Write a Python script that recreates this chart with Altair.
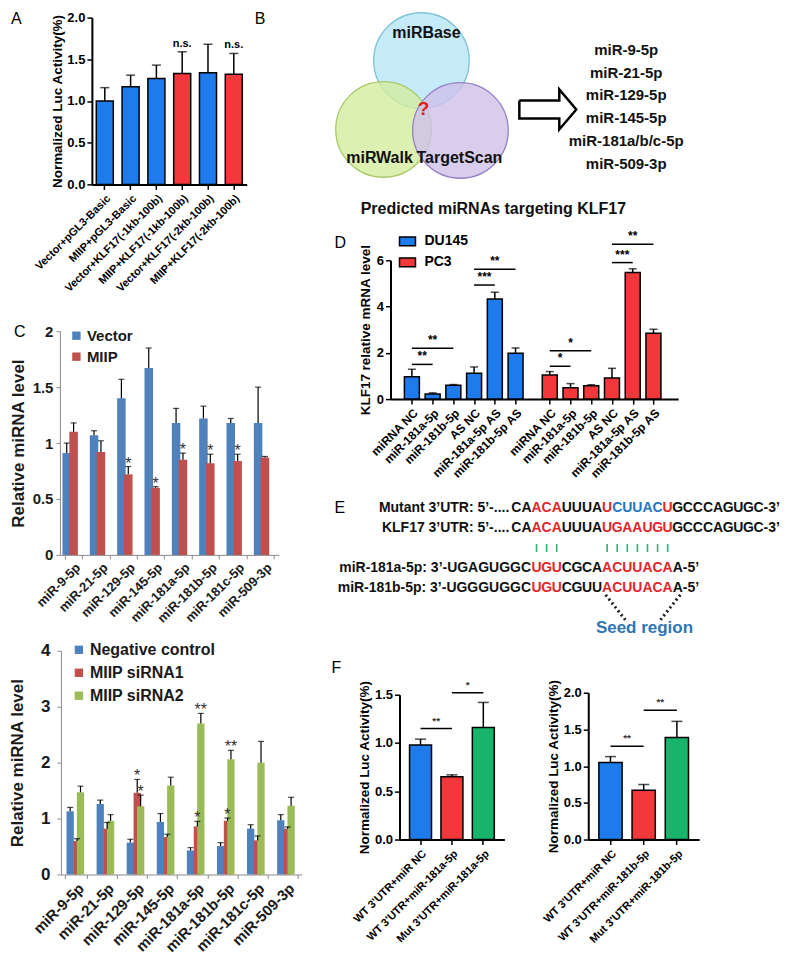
import json
import math
import altair as alt
import pandas as pd

FONT = "Liberation Sans"
GP_BLUE, GP_RED, GP_GREEN = "#1E7BEB", "#F2383A", "#18B46B"
XL_BLUE, XL_RED, XL_GREEN = "#4F81BD", "#C0504D", "#9BBB59"

# ---------------- data ----------------
# Panel A
a_labels = ["Vector+pGL3-Basic", "MIIP+pGL3-Basic", "Vector+KLF17(-1kb-100b)",
            "MIIP+KLF17(-1kb-100b)", "Vector+KLF17(-2kb-100b)", "MIIP+KLF17(-2kb-100b)"]
a_values = [1.00, 1.17, 1.27, 1.33, 1.34, 1.32]
a_errors = [1.16, 1.31, 1.43, 1.59, 1.68, 1.57]
a_tested = ["no", "no", "no", "yes", "no", "yes"]
a_sig = ["", "", "", "n.s.", "", "n.s."]

# Panel B
venn_sets = ["miRBase", "miRWalk", "TargetScan"]
venn_cx = [93, 55, 132]
venn_cy = [52, 121, 122]
venn_lx = [98, 51, 131]
venn_ly = [24, 150, 150]
mirna_list = ["miR-9-5p", "miR-21-5p", "miR-129-5p", "miR-145-5p", "miR-181a/b/c-5p", "miR-509-3p"]
arrow_x = [191, 231, 231, 248, 231, 231, 191, 191]
arrow_y = [92, 92, 81, 101, 121, 110, 110, 92]

# Panel C (top)
c1_mirnas = ["miR-9-5p", "miR-21-5p", "miR-129-5p", "miR-145-5p",
             "miR-181a-5p", "miR-181b-5p", "miR-181c-5p", "miR-509-3p"]
c1_vector = [0.91, 1.07, 1.40, 1.67, 1.18, 1.22, 1.18, 1.18]
c1_vector_err = [1.00, 1.11, 1.57, 1.85, 1.31, 1.33, 1.22, 1.50]
c1_miip = [1.10, 0.92, 0.72, 0.60, 0.85, 0.82, 0.84, 0.87]
c1_miip_err = [1.18, 1.02, 0.79, 0.61, 0.91, 0.90, 0.90, 0.88]
c1_miip_sig = ["", "", "*", "*", "*", "*", "*", ""]

# Panel C (bottom)
c2_nc = [1.13, 1.26, 0.57, 0.94, 0.43, 0.51, 0.82, 0.97]
c2_nc_err = [1.20, 1.33, 0.63, 1.09, 0.48, 0.57, 0.89, 1.07]
c2_si1 = [0.60, 0.82, 1.46, 0.67, 0.86, 0.96, 0.61, 0.82]
c2_si1_err = [0.64, 0.93, 1.70, 0.72, 0.95, 1.01, 0.69, 0.85]
c2_si2 = [1.47, 0.96, 1.22, 1.59, 2.70, 2.06, 2.00, 1.23]
c2_si2_err = [1.58, 1.07, 1.42, 1.74, 2.88, 2.22, 2.38, 1.38]
c2_si1_sig = ["", "", "*", "", "*", "*", "", ""]
c2_si2_sig = ["", "", "*", "", "**", "**", "", ""]

# Panel D
d_labels = ["miRNA NC", "miR-181a-5p", "miR-181b-5p", "AS NC", "miR-181a-5p AS", "miR-181b-5p AS"]
d_du145 = [0.97, 0.22, 0.60, 1.12, 4.33, 1.98]
d_du145_err = [1.29, 0.27, 0.63, 1.39, 4.62, 2.21]
d_pc3 = [1.04, 0.49, 0.58, 0.91, 5.47, 2.85]
d_pc3_err = [1.19, 0.67, 0.62, 1.33, 5.63, 3.02]
d_sig_cell = ["DU145", "DU145", "DU145", "DU145", "PC3", "PC3", "PC3", "PC3"]
d_sig_from = [0, 0, 3, 3, 0, 0, 3, 3]
d_sig_to = [1, 2, 4, 5, 1, 2, 4, 5]
d_sig_level = [1.50, 2.20, 4.93, 5.61, 1.42, 2.09, 5.90, 6.69]
d_sig_text = ["**", "**", "***", "**", "*", "*", "***", "**"]

# Panel E
e_mutant = [("CA", "n"), ("ACA", "r"), ("UUUA", "n"), ("U", "r"), ("CUUAC", "b"), ("U", "r"), ("GCCCAGUGC", "n")]
e_klf17 = [("CA", "n"), ("ACA", "r"), ("UUUA", "n"), ("UGAAUGU", "r"), ("GCCCAGUGC", "n")]
e_181a = [("UGU", "r"), ("CGCA", "n"), ("ACUUACA", "r"), ("A", "n")]
e_181b = [("UGU", "r"), ("CGUU", "n"), ("ACUUACA", "r"), ("A", "n")]
e_prefix = ["Mutant 3\u2019UTR: 5\u2019-....", "KLF17 3\u2019UTR: 5\u2019-....",
            "miR-181a-5p: 3\u2019-UGAGUGGC", "miR-181b-5p: 3\u2019-UGGGUGGC"]
e_suffix = ["-3\u2019", "-3\u2019", "-5\u2019", "-5\u2019"]
e_pairs = [2, 3, 4, 9, 10, 11, 12, 13, 14, 15]

# Panel F
f1_labels = ["WT 3'UTR+miR NC", "WT 3'UTR+miR-181a-5p", "Mut 3'UTR+miR-181a-5p"]
f1_values = [0.98, 0.65, 1.16]
f1_err = [1.04, 0.67, 1.42]
f1_sig_from = [0, 1]; f1_sig_to = [1, 2]; f1_sig_level = [1.15, 1.52]; f1_sig_text = ["**", "*"]
f2_labels = ["WT 3'UTR+miR NC", "WT 3'UTR+miR-181b-5p", "Mut 3'UTR+miR-181b-5p"]
f2_values = [1.05, 0.67, 1.39]
f2_err = [1.13, 0.75, 1.61]
f2_sig_from = [0, 1]; f2_sig_to = [1, 2]; f2_sig_level = [1.27, 1.76]; f2_sig_text = ["**", "**"]


# ---------------- helpers ----------------
def gp_axis(**kw):
    d = dict(grid=False, domainColor="black", domainWidth=2, tickColor="black", tickWidth=1.5,
             tickSize=5, labelFont=FONT, labelFontWeight="bold", labelColor="black",
             labelFontSize=13, labelPadding=2, titleFont=FONT, titleFontWeight="bold",
             titleColor="black", titleFontSize=13.5, labelOverlap=False)
    d.update(kw)
    return alt.Axis(**d)


def xl_axis(**kw):
    d = dict(grid=False, domainColor="#8C8C8C", domainWidth=1, tickColor="#8C8C8C", tickWidth=1,
             tickSize=4, labelFont=FONT, labelFontWeight="bold", labelColor="#1A1A1A",
             labelFontSize=15, labelPadding=3, titleFont=FONT, titleFontWeight="bold",
             titleColor="#1A1A1A", titleFontSize=17, labelOverlap=False)
    d.update(kw)
    return alt.Axis(**d)


def letter(txt, x, y, size=16):
    return alt.Chart(pd.DataFrame({"t": [txt]})).mark_text(
        align="left", baseline="top", font=FONT, fontSize=size, color="black"
    ).encode(x=alt.value(x), y=alt.value(y), text="t:N")


def indep(c):
    return c.resolve_scale(color="independent", fill="independent", stroke="independent",
                           x="independent", y="independent").resolve_legend(color="independent")


# ---------------- Panel A ----------------
AW, AH = 318, 312
ax0, ax1, ay0, ay1 = 81, 236, 9, 176
dfA = pd.DataFrame({"label": a_labels, "value": a_values, "err": a_errors,
                    "tested": a_tested, "sig": a_sig})


def xA():
    return alt.X("label:N", sort=a_labels, title=None,
                 scale=alt.Scale(range=[ax0, ax1], paddingInner=0.34, paddingOuter=0.17),
                 axis=gp_axis(labelAngle=-45, labelFontSize=11, offset=ay1 - AH, labelPadding=3))


def yA(f):
    return alt.Y(f + ":Q", title="Normalized Luc Activity(%)",
                 scale=alt.Scale(domain=[0, 2], range=[ay1, ay0], nice=False),
                 axis=gp_axis(values=[0, 0.5, 1, 1.5, 2], format=".1f", offset=-ax0, titlePadding=2))


baseA = alt.Chart(dfA)
panelA = alt.layer(
    baseA.mark_bar(stroke="black", strokeWidth=1.5).encode(
        x=xA(), y=yA("value"),
        color=alt.Color("tested:N", scale=alt.Scale(domain=["no", "yes"], range=[GP_BLUE, GP_RED]), legend=None)),
    baseA.mark_rule(color="black", strokeWidth=1.5).encode(x=xA(), y=yA("value"), y2="err:Q"),
    baseA.mark_tick(color="black", thickness=1.5, size=9).encode(x=xA(), y=yA("err")),
    baseA.mark_text(font=FONT, fontWeight="bold", fontSize=11, baseline="bottom", dy=-3).encode(
        x=xA(), y=yA("err"), text="sig:N"),
    letter("A", 0, 2), letter("B", 244, 2),
).properties(width=AW, height=AH)

# ---------------- Panel C top ----------------
C1W, C1H = 318, 307
c1x0, c1x1, c1y0, c1y1 = 49, 268, 11, 235
dfC1 = pd.DataFrame({"mirna": c1_mirnas * 2,
                     "series": ["Vector"] * 8 + ["MIIP"] * 8,
                     "value": c1_vector + c1_miip,
                     "err": c1_vector_err + c1_miip_err,
                     "sig": [""] * 8 + c1_miip_sig})


def xC1():
    return alt.X("mirna:N", sort=c1_mirnas, title=None,
                 scale=alt.Scale(range=[c1x0, c1x1], paddingInner=0.37, paddingOuter=0.185),
                 axis=xl_axis(labelAngle=-45, labelFontSize=13, tickBand="extent",
                              offset=c1y1 - C1H, labelPadding=2))


def yC1(f):
    return alt.Y(f + ":Q", title="Relative miRNA level",
                 scale=alt.Scale(domain=[0, 2], range=[c1y1, c1y0], nice=False),
                 axis=xl_axis(values=[0, 0.5, 1, 1.5, 2], format="~g", offset=-c1x0,
                              labelFontSize=15, titlePadding=5, labelPadding=3))


xoC1 = alt.XOffset("series:N", sort=["Vector", "MIIP"], scale=alt.Scale(paddingInner=0, paddingOuter=0))
baseC1 = alt.Chart(dfC1)
panelC1 = alt.layer(
    baseC1.mark_bar(width=8.5).encode(
        x=xC1(), xOffset=xoC1, y=yC1("value"),
        color=alt.Color("series:N", sort=["Vector", "MIIP"],
                        scale=alt.Scale(domain=["Vector", "MIIP"], range=[XL_BLUE, XL_RED]),
                        legend=alt.Legend(orient="none", legendX=58, legendY=8, title=None,
                                          symbolType="square", symbolSize=70, symbolStrokeWidth=0,
                                          labelFont=FONT, labelFontWeight="bold", labelFontSize=15,
                                          labelColor="#1A1A1A", rowPadding=5, labelOffset=3, padding=0))),
    baseC1.mark_rule(color="black", strokeWidth=1.2).encode(x=xC1(), xOffset=xoC1, y=yC1("value"), y2="err:Q"),
    baseC1.mark_tick(color="black", thickness=1.2, size=6).encode(x=xC1(), xOffset=xoC1, y=yC1("err")),
    baseC1.mark_text(font=FONT, fontSize=16, color="#333333", baseline="bottom", dy=5).encode(
        x=xC1(), xOffset=xoC1, y=yC1("err"), text="sig:N"),
    letter("C", 3, 4),
).properties(width=C1W, height=C1H)

# ---------------- Panel C bottom ----------------
C2W, C2H = 318, 325
c2x0, c2x1, c2y0, c2y1 = 50, 291, 24, 248
c2_series = ["Negative control", "MIIP siRNA1", "MIIP siRNA2"]
dfC2 = pd.DataFrame({"mirna": c1_mirnas * 3,
                     "series": [c2_series[0]] * 8 + [c2_series[1]] * 8 + [c2_series[2]] * 8,
                     "value": c2_nc + c2_si1 + c2_si2,
                     "err": c2_nc_err + c2_si1_err + c2_si2_err,
                     "sig": [""] * 8 + c2_si1_sig + c2_si2_sig})


def xC2():
    return alt.X("mirna:N", sort=c1_mirnas, title=None,
                 scale=alt.Scale(range=[c2x0, c2x1], paddingInner=0.27, paddingOuter=0.135),
                 axis=xl_axis(labelAngle=-45, labelFontSize=15, tickBand="extent",
                              offset=c2y1 - C2H, labelPadding=2))


def yC2(f):
    return alt.Y(f + ":Q", title="Relative miRNA level",
                 scale=alt.Scale(domain=[0, 4], range=[c2y1, c2y0], nice=False),
                 axis=xl_axis(values=[0, 1, 2, 3, 4], format="~g", offset=-c2x0,
                              labelFontSize=17, titlePadding=14, labelPadding=7))


xoC2 = alt.XOffset("series:N", sort=c2_series, scale=alt.Scale(paddingInner=0, paddingOuter=0))
baseC2 = alt.Chart(dfC2)
panelC2 = alt.layer(
    baseC2.mark_bar(width=7.3).encode(
        x=xC2(), xOffset=xoC2, y=yC2("value"),
        color=alt.Color("series:N", sort=c2_series,
                        scale=alt.Scale(domain=c2_series, range=[XL_BLUE, XL_RED, XL_GREEN]),
                        legend=alt.Legend(orient="none", legendX=60, legendY=15, title=None,
                                          symbolType="square", symbolSize=70, symbolStrokeWidth=0,
                                          labelFont=FONT, labelFontWeight="bold", labelFontSize=16,
                                          labelColor="#1A1A1A", rowPadding=7, labelOffset=3, padding=0))),
    baseC2.mark_rule(color="black", strokeWidth=1.2).encode(x=xC2(), xOffset=xoC2, y=yC2("value"), y2="err:Q"),
    baseC2.mark_tick(color="black", thickness=1.2, size=6).encode(x=xC2(), xOffset=xoC2, y=yC2("err")),
    baseC2.mark_text(font=FONT, fontSize=16, color="#333333", baseline="bottom", dy=5).encode(
        x=xC2(), xOffset=xoC2, y=yC2("err"), text="sig:N"),
).properties(width=C2W, height=C2H)

# ---------------- Panel B ----------------
BW, BH = 460, 222


def xB(f):
    return alt.X(f + ":Q", scale=alt.Scale(domain=[0, BW], range=[0, BW], nice=False, zero=False), axis=None)


def yB(f):
    return alt.Y(f + ":Q", scale=alt.Scale(domain=[0, BH], range=[0, BH], nice=False, zero=False), axis=None)


dfV = pd.DataFrame({"set": venn_sets, "cx": venn_cx, "cy": venn_cy, "lx": venn_lx, "ly": venn_ly})
dfArrow = pd.DataFrame({"ax": arrow_x, "ay": arrow_y, "k": list(range(len(arrow_x)))})
dfList = pd.DataFrame({"name": mirna_list, "lx": [298] * len(mirna_list),
                       "ly": [41 + 23 * i for i in range(len(mirna_list))]})
dfBT = pd.DataFrame({"t": ["Predicted miRNAs targeting KLF17"], "lx": [165], "ly": [201]})
dfQ = pd.DataFrame({"t": ["?"], "lx": [95], "ly": [101]})
venn_scale_fill = alt.Scale(domain=venn_sets, range=["#B5E6F5", "#D3EC9E", "#CFC0EA"])
venn_scale_stroke = alt.Scale(domain=venn_sets, range=["#7FC3D6", "#A8CA68", "#9580C4"])
panelB = alt.layer(
    alt.Chart(dfV).mark_circle(size=math.pi * 54 ** 2, fillOpacity=0.8, strokeWidth=1.3).encode(
        x=xB("cx"), y=yB("cy"),
        fill=alt.Fill("set:N", scale=venn_scale_fill, legend=None),
        stroke=alt.Stroke("set:N", scale=venn_scale_stroke, legend=None)),
    alt.Chart(dfV).mark_text(font=FONT, fontWeight="bold", fontSize=16, color="#111").encode(
        x=xB("lx"), y=yB("ly"), text="set:N"),
    alt.Chart(dfQ).mark_text(font=FONT, fontWeight="bold", fontSize=19, color="#E0201F").encode(
        x=xB("lx"), y=yB("ly"), text="t:N"),
    alt.Chart(dfArrow).mark_line(color="black", strokeWidth=2.5, strokeJoin="miter").encode(
        x=xB("ax"), y=yB("ay"), order="k:Q"),
    alt.Chart(dfList).mark_text(font=FONT, fontWeight="bold", fontSize=15, color="#111").encode(
        x=xB("lx"), y=yB("ly"), text="name:N"),
    alt.Chart(dfBT).mark_text(font=FONT, fontWeight="bold", fontSize=16, color="#111").encode(
        x=xB("lx"), y=yB("ly"), text="t:N"),
).properties(width=BW, height=BH)

# ---------------- Panel D ----------------
DW, DH = 460, 247
dx0, dx1, dy0, dy1 = 62, 350, 29, 168
D_GAP = 0.65
d_pos = [float(i) for i in range(6)] + [6 + D_GAP + i for i in range(6)]
dfD = pd.DataFrame({"pos": d_pos, "cell": ["DU145"] * 6 + ["PC3"] * 6,
                    "value": d_du145 + d_pc3, "err": d_du145_err + d_pc3_err})
sig_off = [0 if c == "DU145" else 6 + D_GAP for c in d_sig_cell]
dfDs = pd.DataFrame({"p1": [f + o for f, o in zip(d_sig_from, sig_off)],
                     "p2": [t + o for t, o in zip(d_sig_to, sig_off)],
                     "level": d_sig_level, "txt": d_sig_text})
dfDs["mid"] = (dfDs["p1"] + dfDs["p2"]) / 2
d_lookup = json.dumps(d_labels + [""] + d_labels)


def xD(f):
    return alt.X(f + ":Q", title=None,
                 scale=alt.Scale(domain=[-0.79, 12.6], range=[dx0, dx1], nice=False, zero=False),
                 axis=gp_axis(values=d_pos, labelExpr=d_lookup + "[round(datum.value)]",
                              labelAngle=-45, labelFontSize=12, offset=dy1 - DH, labelPadding=3,
                              labelFlush=False))


def yD(f):
    return alt.Y(f + ":Q", title="KLF17 relative mRNA level",
                 scale=alt.Scale(domain=[0, 6], range=[dy1, dy0], nice=False),
                 axis=gp_axis(values=[0, 2, 4, 6], format="d", offset=-dx0, titlePadding=4))


panelD = alt.layer(
    alt.Chart(dfD).mark_bar(size=15, orient="vertical", stroke="black", strokeWidth=1.5).encode(
        x=xD("pos"), y=yD("value"),
        color=alt.Color("cell:N", scale=alt.Scale(domain=["DU145", "PC3"], range=[GP_BLUE, GP_RED]),
                        legend=alt.Legend(orient="none", legendX=70, legendY=1, title=None,
                                          symbolType="M-1,-0.55L1,-0.55L1,0.55L-1,0.55Z", symbolSize=256,
                                          symbolStrokeColor="black", symbolStrokeWidth=1.5,
                                          labelFont=FONT, labelFontWeight="bold", labelFontSize=14,
                                          labelColor="black", rowPadding=4, labelOffset=8, padding=0))),
    alt.Chart(dfD).mark_rule(color="black", strokeWidth=1.5).encode(x=xD("pos"), y=yD("value"), y2="err:Q"),
    alt.Chart(dfD).mark_tick(color="black", thickness=1.5, size=8, orient="horizontal").encode(
        x=xD("pos"), y=yD("err")),
    alt.Chart(dfDs).mark_rule(color="black", strokeWidth=1.5).encode(x=xD("p1"), x2="p2:Q", y=yD("level")),
    alt.Chart(dfDs).mark_text(font=FONT, fontWeight="bold", fontSize=12, baseline="bottom", dy=-1).encode(
        x=xD("mid"), y=yD("level"), text="txt:N"),
    letter("D", 6, 4),
).properties(width=DW, height=DH)

# ---------------- Panel E ----------------
EW, EH = 460, 180
E_COL0, E_PITCH, E_ROW0, E_ROWH = 188, 10.1, 28, 20
e_rows = [(0, e_mutant, 0), (1, e_klf17, 0), (3, e_181a, 2), (4, e_181b, 2)]
chars = []
for row, segs, start in e_rows:
    c = start
    for seg, kind in segs:
        for ch in seg:
            chars.append({"row": row, "col": c, "ch": ch, "kind": kind})
            c += 1
dfEc = pd.DataFrame(chars)
dfEp = pd.DataFrame({"row": [0, 1, 3, 4], "col": [-0.7, -0.7, 1.45, 1.45], "t": e_prefix})
dfEs = pd.DataFrame({"row": [0, 1, 3, 4], "col": [24.5, 24.5, 16.5, 16.5], "t": e_suffix})
dfEpair = pd.DataFrame({"col": e_pairs, "row": [1.8] * len(e_pairs), "row2": [2.2] * len(e_pairs)})
dfEdot = pd.DataFrame({"col": [8.85, 16.25], "col2": [10.8, 14.3], "row": [4.35, 4.35], "row2": [5.6, 5.6]})
dfEseed = pd.DataFrame({"col": [12.7], "row": [6.0], "t": ["Seed region"]})


def xE(f):
    return alt.X(f + ":Q", axis=None,
                 scale=alt.Scale(domain=[-E_COL0 / E_PITCH, (EW - E_COL0) / E_PITCH], range=[0, EW],
                                 nice=False, zero=False))


def yE(f):
    return alt.Y(f + ":Q", axis=None,
                 scale=alt.Scale(domain=[-E_ROW0 / E_ROWH, (EH - E_ROW0) / E_ROWH], range=[0, EH],
                                 nice=False, zero=False))


txt_kw = dict(font=FONT, fontWeight="bold", fontSize=14, baseline="middle")
panelE = alt.layer(
    alt.Chart(dfEc).mark_text(align="center", **txt_kw).encode(
        x=xE("col"), y=yE("row"), text="ch:N",
        color=alt.Color("kind:N", scale=alt.Scale(domain=["n", "r", "b"], range=["#111111", "#E3262B", "#1F78C4"]),
                        legend=None)),
    alt.Chart(dfEp).mark_text(align="right", color="#111111", **txt_kw).encode(x=xE("col"), y=yE("row"), text="t:N"),
    alt.Chart(dfEs).mark_text(align="left", color="#111111", **txt_kw).encode(x=xE("col"), y=yE("row"), text="t:N"),
    alt.Chart(dfEpair).mark_rule(color="#2DB36F", strokeWidth=1.6).encode(x=xE("col"), y=yE("row"), y2="row2:Q"),
    alt.Chart(dfEdot).mark_rule(color="#1A1A1A", strokeWidth=3, strokeDash=[2, 3]).encode(
        x=xE("col"), x2="col2:Q", y=yE("row"), y2="row2:Q"),
    alt.Chart(dfEseed).mark_text(font=FONT, fontWeight="bold", fontSize=17, color="#2E75B6", baseline="middle").encode(
        x=xE("col"), y=yE("row"), text="t:N"),
    letter("E", 6, 20),
).properties(width=EW, height=EH)

# ---------------- Panel F ----------------
FH = 295


def f_panel(labels, values, errs, sfrom, sto, slevel, stext, W, x0, x1, y0, y1, ymax, ticks, with_letter):
    df = pd.DataFrame({"label": labels, "value": values, "err": errs})
    dfs = pd.DataFrame({"a": [labels[i] for i in sfrom], "b": [labels[i] for i in sto],
                        "level": slevel, "txt": stext})
    step = (x1 - x0) / (3 - 0.3 + 2 * 0.32)

    def xF(f):
        return alt.X(f + ":N", sort=labels, title=None,
                     scale=alt.Scale(domain=labels, range=[x0, x1], paddingInner=0.3, paddingOuter=0.32),
                     axis=gp_axis(labelAngle=-45, labelFontSize=11, offset=y1 - FH, labelPadding=3))

    def yF(f):
        return alt.Y(f + ":Q", title="Normalized Luc Activity(%)",
                     scale=alt.Scale(domain=[0, ymax], range=[y1, y0], nice=False),
                     axis=gp_axis(values=ticks, format=".1f", offset=-x0, titlePadding=3))

    layers = [
        alt.Chart(df).mark_bar(stroke="black", strokeWidth=1.5).encode(
            x=xF("label"), y=yF("value"),
            color=alt.Color("label:N", scale=alt.Scale(domain=labels, range=[GP_BLUE, GP_RED, GP_GREEN]),
                            legend=None)),
        alt.Chart(df).mark_rule(color="black", strokeWidth=1.5).encode(x=xF("label"), y=yF("value"), y2="err:Q"),
        alt.Chart(df).mark_tick(color="black", thickness=1.5, size=11).encode(x=xF("label"), y=yF("err")),
        alt.Chart(dfs).mark_rule(color="black", strokeWidth=1.5).encode(x=xF("a"), x2="b:N", y=yF("level")),
        alt.Chart(dfs).mark_text(font=FONT, fontWeight="bold", fontSize=10, color="#333333",
                                 baseline="bottom", dy=-3, dx=step / 2).encode(
            x=xF("a"), y=yF("level"), text="txt:N"),
    ]
    if with_letter:
        layers.append(letter("F", 3, 0))
    return alt.layer(*layers).properties(width=W, height=FH)


panelF1 = f_panel(f1_labels, f1_values, f1_err, f1_sig_from, f1_sig_to, f1_sig_level, f1_sig_text,
                  203, 71, 176, 35, 180, 1.5, [0, 0.5, 1, 1.5], True)
panelF2 = f_panel(f2_labels, f2_values, f2_err, f2_sig_from, f2_sig_to, f2_sig_level, f2_sig_text,
                  257, 57, 168, 33, 180, 2.0, [0, 0.5, 1, 1.5, 2], False)

# ---------------- layout ----------------
left = indep(alt.vconcat(panelA, panelC1, panelC2, spacing=0))
fpair = indep(alt.hconcat(panelF1, panelF2, spacing=0))
right = indep(alt.vconcat(panelB, panelD, panelE, fpair, spacing=0))
chart = indep(alt.hconcat(left, right, spacing=0, padding=0)).configure(
    font=FONT).configure_view(stroke="transparent", strokeWidth=0)

chart.save("out.html", embed_options={"renderer": "svg", "actions": False})
